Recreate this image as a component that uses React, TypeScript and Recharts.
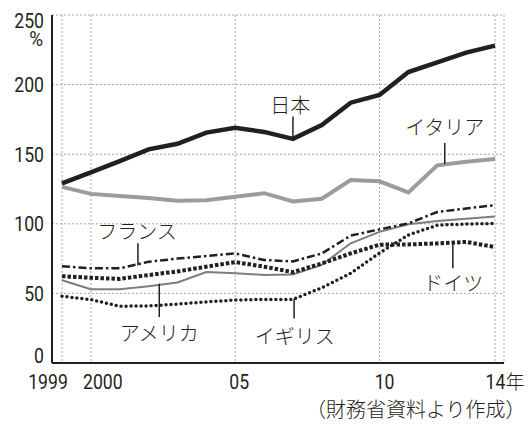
import React from 'react';
import { LineChart, Line, XAxis, YAxis, CartesianGrid, ReferenceLine, ReferenceDot } from 'recharts';

const years = [1999, 2000, 2001, 2002, 2003, 2004, 2005, 2006, 2007, 2008, 2009, 2010, 2011, 2012, 2013, 2014];
const japan = [129, 137, 145, 153.5, 157.5, 165.5, 169, 166, 161, 171, 187, 192.5, 209, 216, 223, 228];
const italy = [126.5, 121.5, 120, 118.5, 116.5, 117, 119.5, 122, 116, 118, 131.5, 130.5, 122.5, 142, 144.5, 146.5];
const france = [69.5, 68, 68, 72.7, 75, 76.8, 78.7, 74, 73, 78.7, 91.5, 96, 100.3, 108.5, 111, 113.4];
const usa = [59.5, 53, 53, 55.2, 57.8, 65.3, 64.5, 63.3, 63.5, 70.5, 86, 94.2, 99.6, 102, 103.6, 105.3];
const germany = [62.4, 61.2, 60.4, 63.2, 65.8, 69.2, 72.5, 69.2, 65.3, 71.5, 78.7, 85, 85.2, 85.9, 87, 83.3];
const uk = [48, 45.5, 40.8, 41, 42.3, 43.9, 45.2, 45.7, 45.7, 54, 64.5, 79, 92, 99, 99.8, 100.2];

const xTicks = [1999, 2000, 2005, 2010, 2014];
const xTickLabels = ['1999', '2000', '05', '10', '14年'];
const yTicks = [0, 50, 100, 150, 200, 250];
const unitLabel = '%';
const source = '（財務省資料より作成）';

const labels = [
  { name: '日本', x: 2006.91, y: 179.5, lineX: 2007, from: 177, to: 161 },
  { name: 'イタリア', x: 2012.26, y: 163.5, lineX: 2012.26, from: 158, to: 143 },
  { name: 'フランス', x: 2001.6, y: 89, lineX: 2001.63, from: 86, to: 70 },
  { name: 'アメリカ', x: 2002.37, y: 15.5, lineX: 2002.37, from: 57, to: 33 },
  { name: 'イギリス', x: 2007.06, y: 14, lineX: 2007.04, from: 46, to: 32 },
  { name: 'ドイツ', x: 2012.55, y: 51.5, lineX: 2012.54, from: 86, to: 68 },
];

const data = years.map((year, i) => ({
  year,
  japan: japan[i],
  italy: italy[i],
  france: france[i],
  usa: usa[i],
  germany: germany[i],
  uk: uk[i],
}));

const INK = '#231f20';
const NUM_FONT = 'Roboto, sans-serif';
const JP_FONT = "'Noto Sans CJK JP', sans-serif";
const NARROW = 0.84;

// horizontal nudges of the year labels, as in the print
const xDx: Record<number, number> = { 1999: -14, 2000: 12, 2005: 4, 2010: 5, 2014: -9.5 };

const XTick = (props: any) => {
  const { x, y, payload } = props;
  const idx = xTicks.indexOf(payload.value);
  const last = payload.value === 2014;
  const tx = x + (xDx[payload.value] || 0);
  if (last) {
    return (
      <g transform={`translate(${tx},${y + 24})`}>
        <text x={0} y={0} textAnchor="start" fill={INK} fontSize={21} fontFamily={NUM_FONT} transform={`scale(${NARROW},1)`}>
          {xTickLabels[idx].slice(0, 2)}
        </text>
        <text x={20} y={0} textAnchor="start" fill={INK} fontSize={19} fontWeight={300} fontFamily={JP_FONT}>
          {xTickLabels[idx].slice(2)}
        </text>
      </g>
    );
  }
  return (
    <g transform={`translate(${tx},${y + 24}) scale(${NARROW},1)`}>
      <text x={0} y={0} textAnchor="middle" fill={INK} fontSize={21} fontFamily={NUM_FONT}>
        {xTickLabels[idx]}
      </text>
    </g>
  );
};

const YTick = (props: any) => {
  const { x, y, payload } = props;
  const v = payload.value;
  let dy = 7.5;
  if (v === 0) dy = 0;
  if (v === 250) dy = 12.5;
  return (
    <g>
      <g transform={`translate(${x},${y + dy}) scale(${NARROW},1)`}>
        <text x={0} y={0} textAnchor="end" fill={INK} fontSize={21} fontFamily={NUM_FONT}>
          {v}
        </text>
      </g>
      {v === 250 && (
        <g transform={`translate(${x - 1},${y + 31}) scale(0.9,1)`}>
          <text x={0} y={0} textAnchor="end" fill={INK} fontSize={21} fontFamily={NUM_FONT}>
            {unitLabel}
          </text>
        </g>
      )}
    </g>
  );
};

export default function App() {
  return (
    <div style={{ position: 'absolute', left: 0, top: 0, width: 532, height: 430, overflow: 'hidden', background: '#fff' }}>
      <LineChart width={532} height={430} data={data} margin={{ top: 15, right: 28, left: 0, bottom: 0 }}>
        <CartesianGrid stroke="#a6a6a6" strokeDasharray="2 2" strokeWidth={1} />
        <XAxis
          dataKey="year"
          type="number"
          domain={[1999, 2014]}
          ticks={xTicks}
          padding={{ left: 10, right: 9 }}
          height={67}
          tickLine={false}
          tickSize={0}
          tick={<XTick />}
          axisLine={{ stroke: INK, strokeWidth: 2 }}
          interval={0}
        />
        <XAxis
          xAxisId="top"
          orientation="top"
          type="number"
          domain={[1999, 2014]}
          height={0}
          tick={false}
          tickLine={false}
          axisLine={{ stroke: INK, strokeWidth: 2 }}
        />
        <YAxis
          type="number"
          domain={[0, 250]}
          ticks={yTicks}
          width={52}
          tickLine={false}
          tickSize={0}
          tickMargin={8}
          tick={<YTick />}
          axisLine={{ stroke: INK, strokeWidth: 2 }}
          interval={0}
        />
        <YAxis
          yAxisId="right"
          orientation="right"
          type="number"
          domain={[0, 250]}
          width={0}
          tick={false}
          tickLine={false}
          axisLine={{ stroke: INK, strokeWidth: 2 }}
        />
        <Line dataKey="italy" stroke="#9c9c9c" strokeWidth={4} dot={false} isAnimationActive={false} />
        <Line dataKey="usa" stroke="#7d7d7d" strokeWidth={2} dot={false} isAnimationActive={false} />
        <Line dataKey="france" stroke={INK} strokeWidth={2.5} strokeDasharray="8 3 2.5 3" dot={false} isAnimationActive={false} />
        <Line dataKey="germany" stroke={INK} strokeWidth={4} strokeDasharray="3.5 2" dot={false} isAnimationActive={false} />
        <Line dataKey="uk" stroke={INK} strokeWidth={3.5} strokeDasharray="0 5" strokeLinecap="round" dot={false} isAnimationActive={false} />
        <Line dataKey="japan" stroke={INK} strokeWidth={4.5} dot={false} isAnimationActive={false} />
        {labels.map((l) => (
          <ReferenceLine
            key={`leader-${l.name}`}
            segment={[{ x: l.lineX, y: l.from }, { x: l.lineX, y: l.to }]}
            stroke={INK}
            strokeWidth={1.5}
          />
        ))}
        {labels.map((l) => (
          <ReferenceDot
            key={`label-${l.name}`}
            x={l.x}
            y={l.y}
            r={0}
            shape={(p: any) => (
              <text x={p.cx} y={p.cy} textAnchor="middle" fill={INK} fontSize={20} fontWeight={300} fontFamily={JP_FONT}>
                {l.name}
              </text>
            )}
          />
        ))}
      </LineChart>
      <div
        style={{
          position: 'absolute',
          left: 306,
          top: 398,
          whiteSpace: 'nowrap',
          fontSize: 20,
          lineHeight: '22px',
          fontWeight: 300,
          fontFamily: JP_FONT,
          color: INK,
        }}
      >
        {source}
      </div>
    </div>
  );
}
